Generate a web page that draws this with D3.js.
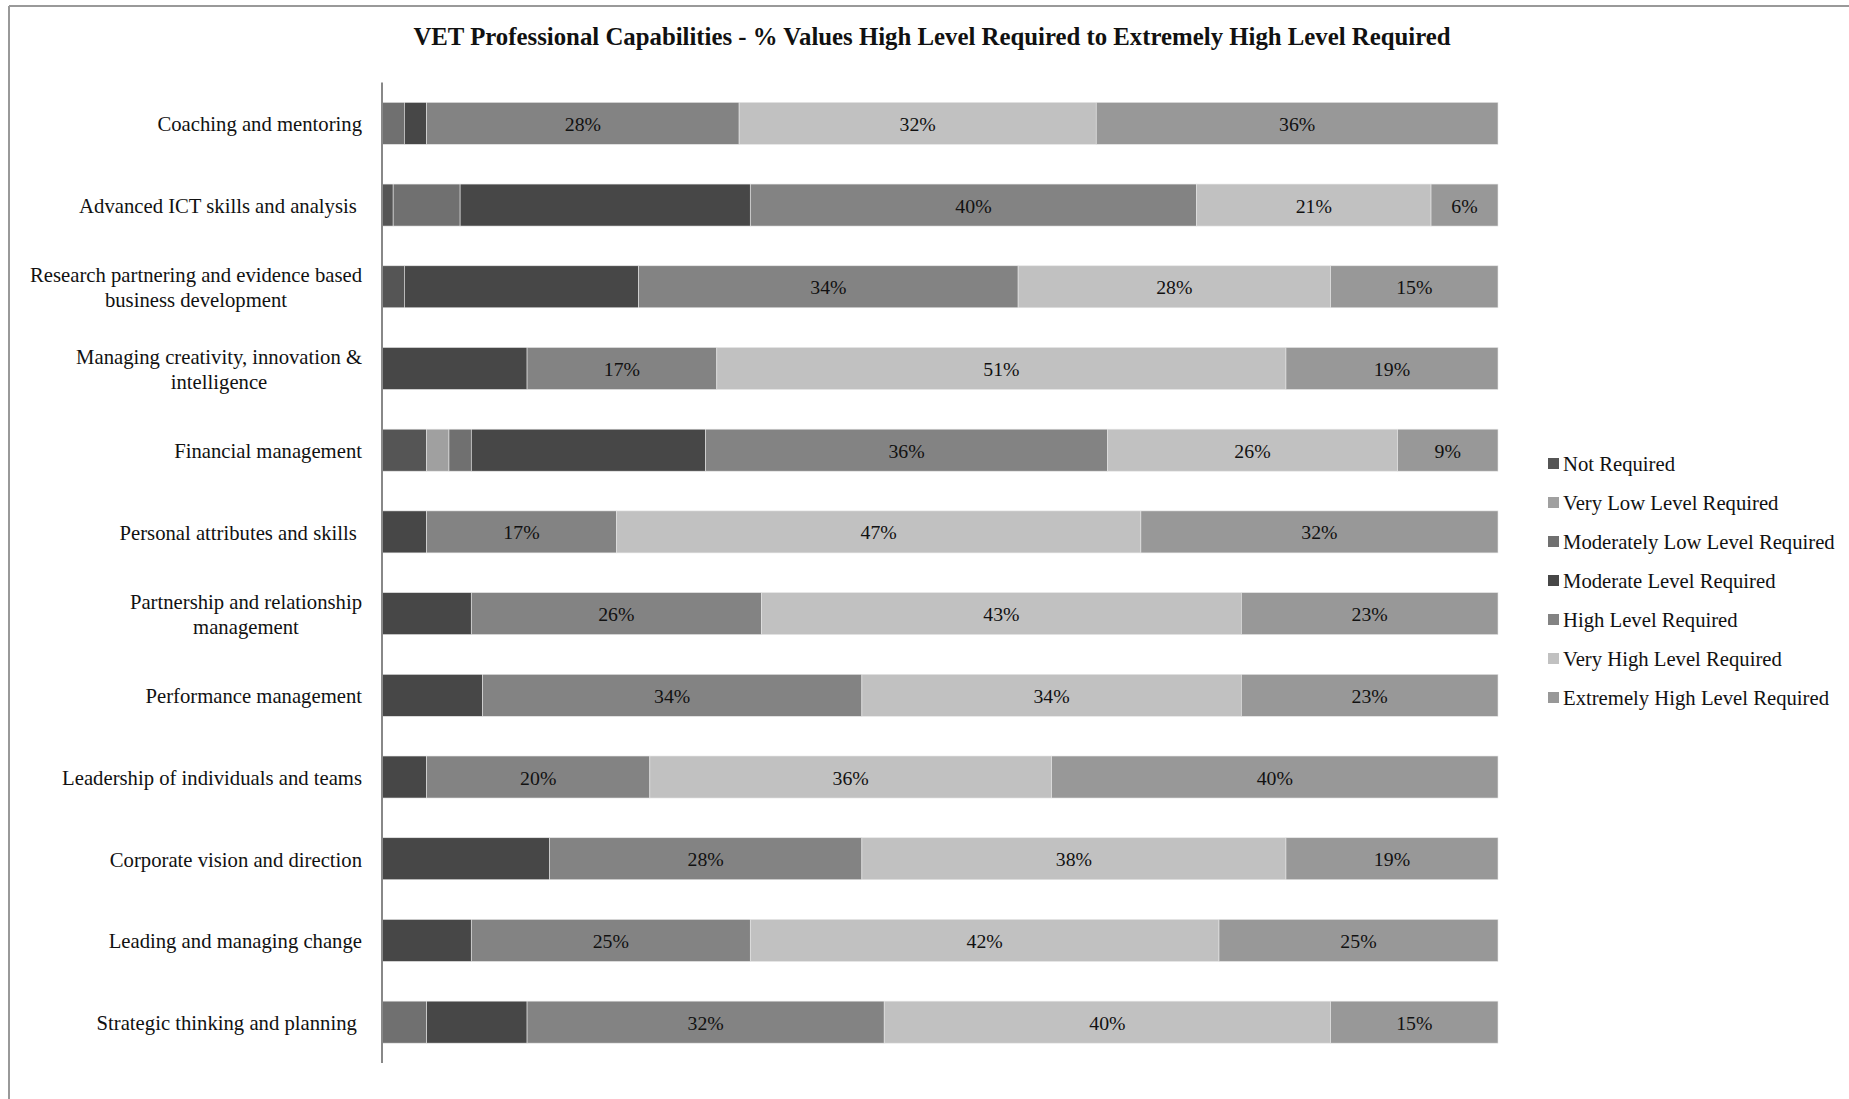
<!DOCTYPE html>
<html>
<head>
<meta charset="utf-8">
<script src="https://cdn.jsdelivr.net/npm/d3@7"></script>
<style>
  html, body { margin: 0; padding: 0; background: #fff; }
  svg { display: block; font-family: "Liberation Serif", "Times New Roman", serif; }
  .cat text { white-space: pre; }
</style>
</head>
<body>
<svg id="chart" width="1849" height="1099"></svg>
<script>
// Capabilities, top to bottom; wrapped lines as drawn
const categories = [
  ["Coaching and mentoring"],
  ["Advanced ICT skills and analysis "],
  ["Research partnering and evidence based", "business development"],
  ["Managing creativity, innovation &", "intelligence"],
  ["Financial management"],
  ["Personal attributes and skills "],
  ["Partnership and relationship", "management"],
  ["Performance management"],
  ["Leadership of individuals and teams"],
  ["Corporate vision and direction"],
  ["Leading and managing change"],
  ["Strategic thinking and planning "]
];

const seriesNames = [
  "Not Required",
  "Very Low Level Required",
  "Moderately Low Level Required",
  "Moderate Level Required",
  "High Level Required",
  "Very High Level Required",
  "Extremely High Level Required"
];

// Percent of respondents per capability, one array per level
const notRequired      = [0, 1, 2, 0, 4, 0, 0, 0, 0, 0, 0, 0];
const veryLow          = [0, 0, 0, 0, 2, 0, 0, 0, 0, 0, 0, 0];
const moderatelyLow    = [2, 6, 0, 0, 2, 0, 0, 0, 0, 0, 0, 4];
const moderate         = [2, 26, 21, 13, 21, 4, 8, 9, 4, 15, 8, 9];
const high             = [28, 40, 34, 17, 36, 17, 26, 34, 20, 28, 25, 32];
const veryHigh         = [32, 21, 28, 51, 26, 47, 43, 34, 36, 38, 42, 40];
const extremelyHigh    = [36, 6, 15, 19, 9, 32, 23, 23, 40, 19, 25, 15];

const seriesValues = [notRequired, veryLow, moderatelyLow, moderate, high, veryHigh, extremelyHigh];
const seriesColors = ["#555555", "#a0a0a0", "#707070", "#474747", "#838383", "#c1c1c1", "#989898"];
// Only the high-end levels carry value labels
const labelledSeries = ["High Level Required", "Very High Level Required", "Extremely High Level Required"];

const titleText = "VET Professional Capabilities - % Values High Level Required to Extremely High Level Required";

const rows = categories.map((c, i) => {
  const r = { key: i };
  seriesNames.forEach((s, j) => { r[s] = seriesValues[j][i]; });
  return r;
});

const svg = d3.select("#chart");

// outer chart frame
svg.append("line").attr("x1", 9).attr("x2", 1849).attr("y1", 6).attr("y2", 6)
  .attr("stroke", "#999").attr("stroke-width", 2);
svg.append("line").attr("x1", 9).attr("x2", 9).attr("y1", 6).attr("y2", 1099)
  .attr("stroke", "#999").attr("stroke-width", 2);

const x = d3.scaleLinear().domain([0, 100]).range([382, 1498]);
const y = d3.scaleBand().domain(d3.range(categories.length)).range([82.5, 1063]).paddingInner(0.486).paddingOuter(0.243);
const color = d3.scaleOrdinal().domain(seriesNames).range(seriesColors);

const stacked = d3.stack().keys(seriesNames)(rows);

const layers = svg.append("g").selectAll("g")
  .data(stacked).join("g")
  .attr("fill", d => color(d.key));

layers.selectAll("rect")
  .data(d => d.map(p => ({ p, key: d.key })))
  .join("rect")
  .attr("x", d => x(d.p[0]))
  .attr("width", d => x(d.p[1]) - x(d.p[0]))
  .attr("y", d => y(d.p.data.key))
  .attr("height", y.bandwidth())
  .attr("stroke", "#e6e6e6")
  .attr("stroke-width", 0.6)
  .filter(d => d.p[1] - d.p[0] <= 0).remove();

// value labels
const labels = svg.append("g");
stacked.filter(s => labelledSeries.includes(s.key)).forEach(s => {
  s.forEach(p => {
    const v = p[1] - p[0];
    if (v <= 0) return;
    labels.append("text")
      .attr("x", (x(p[0]) + x(p[1])) / 2)
      .attr("y", y(p.data.key) + y.bandwidth() / 2 + 7.5)
      .attr("text-anchor", "middle")
      .attr("font-size", 19.8)
      .attr("fill", "#111")
      .text(v + "%");
  });
});

// category axis line
svg.append("line")
  .attr("x1", x(0)).attr("x2", x(0))
  .attr("y1", y.range()[0]).attr("y2", y.range()[1])
  .attr("stroke", "#888").attr("stroke-width", 2);

// category labels: block right-aligned, lines centred within the block
const catG = svg.append("g").attr("class", "cat");
const lineH = 24.8;
categories.forEach((lines, i) => {
  const g = catG.append("g");
  const texts = lines.map(l => g.append("text").attr("font-size", 20.7).attr("fill", "#111").text(l));
  const maxW = d3.max(texts, t => t.node().getComputedTextLength());
  const cx = 362 - maxW / 2;
  const cy = y(i) + y.bandwidth() / 2;
  const top = cy - (lines.length - 1) * lineH / 2;
  texts.forEach((t, k) => {
    t.attr("x", cx).attr("text-anchor", "middle").attr("y", top + k * lineH + 8);
  });
});

// title
svg.append("text")
  .attr("x", 932).attr("y", 45)
  .attr("text-anchor", "middle")
  .attr("font-size", 24.8)
  .attr("font-weight", "bold")
  .attr("fill", "#111")
  .text(titleText);

// legend
const legend = svg.append("g");
seriesNames.forEach((s, i) => {
  const cy = 463.5 + i * 39;
  legend.append("rect").attr("x", 1548).attr("y", cy - 5.5).attr("width", 11).attr("height", 11).attr("fill", color(s));
  legend.append("text").attr("x", 1563).attr("y", cy + 7).attr("font-size", 20.7).attr("fill", "#111").text(s);
});
</script>
</body>
</html>
